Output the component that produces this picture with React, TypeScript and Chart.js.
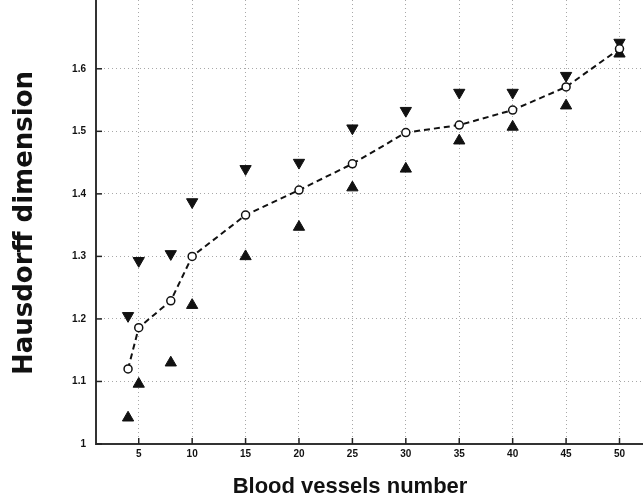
import React, { useEffect, useRef } from "react";
import { Chart, registerables } from "chart.js";

Chart.register(...registerables);

const vesselCounts = [4, 5, 8, 10, 15, 20, 25, 30, 35, 40, 45, 50];
const meanDimension = [1.12, 1.186, 1.229, 1.3, 1.366, 1.406, 1.448, 1.498, 1.51, 1.534, 1.571, 1.632];
const upperDimension = [1.205, 1.293, 1.304, 1.387, 1.44, 1.45, 1.505, 1.533, 1.562, 1.562, 1.589, 1.642];
const lowerDimension = [1.042, 1.096, 1.13, 1.222, 1.3, 1.347, 1.41, 1.44, 1.485, 1.507, 1.541, 1.624];
const xTickValues = [5, 10, 15, 20, 25, 30, 35, 40, 45, 50];
const yTickValues = [1, 1.1, 1.2, 1.3, 1.4, 1.5, 1.6];
const xTitle = "Blood vessels number";
const yTitle = "Hausdorff dimension";

const FONT = '"Liberation Sans", Arial, sans-serif';

export default function App() {
  const ref = useRef<HTMLCanvasElement | null>(null);

  useEffect(() => {
    if (!ref.current) return;
    const toPts = (ys: number[]) => vesselCounts.map((x, i) => ({ x, y: ys[i] }));

    const decorPlugin = {
      id: "decor",
      afterDraw(chart: any) {
        const ctx = chart.ctx;
        const xs = chart.scales.x;
        const ys = chart.scales.y;
        const area = chart.chartArea;
        ctx.save();
        ctx.setLineDash([]);
        ctx.strokeStyle = "#333";
        ctx.lineWidth = 2;
        ctx.beginPath();
        ctx.moveTo(area.left, area.top);
        ctx.lineTo(area.left, area.bottom);
        ctx.lineTo(area.right, area.bottom);
        ctx.stroke();
        ctx.strokeStyle = "#222";
        ctx.lineWidth = 1.5;
        xTickValues.forEach((v) => {
          const px = xs.getPixelForValue(v);
          ctx.beginPath();
          ctx.moveTo(px, area.bottom);
          ctx.lineTo(px, area.bottom - 6);
          ctx.stroke();
        });
        yTickValues.forEach((v) => {
          const py = ys.getPixelForValue(v);
          ctx.beginPath();
          ctx.moveTo(area.left, py);
          ctx.lineTo(area.left + 6, py);
          ctx.stroke();
        });
        ctx.fillStyle = "#111";
        ctx.textAlign = "center";
        ctx.textBaseline = "middle";
        ctx.font = `bold 22px ${FONT}`;
        ctx.fillText(xTitle, 350, 487);
        ctx.translate(25, 223);
        ctx.rotate(-Math.PI / 2);
        ctx.font = `bold 26px "DejaVu Sans", sans-serif`;
        ctx.fillText(yTitle, 0, 0);
        ctx.restore();
      },
    };

    const chart = new Chart(ref.current, {
      type: "line",
      data: {
        datasets: [
          {
            label: "mean",
            data: toPts(meanDimension),
            borderColor: "#111",
            borderWidth: 2,
            borderDash: [6, 4],
            pointStyle: "circle",
            pointRadius: 4,
            pointBorderWidth: 1.5,
            pointBorderColor: "#111",
            pointBackgroundColor: "#fff",
            tension: 0,
            fill: false,
          },
          {
            label: "upper",
            data: toPts(upperDimension),
            showLine: false,
            pointStyle: "triangle",
            rotation: 180,
            pointRadius: 6.5,
            pointBorderWidth: 1,
            pointBorderColor: "#111",
            pointBackgroundColor: "#111",
          },
          {
            label: "lower",
            data: toPts(lowerDimension),
            showLine: false,
            pointStyle: "triangle",
            pointRadius: 6.5,
            pointBorderWidth: 1,
            pointBorderColor: "#111",
            pointBackgroundColor: "#111",
          },
        ],
      },
      options: {
        animation: false,
        responsive: false,
        devicePixelRatio: 1,
        layout: { padding: 0, autoPadding: false },
        plugins: { legend: { display: false }, tooltip: { enabled: false } },
        scales: {
          x: {
            type: "linear",
            min: 1,
            max: 52.2,
            afterBuildTicks: (s: any) => {
              s.ticks = xTickValues.map((v) => ({ value: v }));
            },
            afterFit: (s: any) => {
              s.height = 60;
              s.paddingLeft = 0;
              s.paddingRight = 0;
            },
            ticks: {
              padding: 4,
              color: "#111",
              font: { family: FONT, size: 10, weight: "bold" },
              maxRotation: 0,
              autoSkip: false,
            },
            grid: {
              drawTicks: false,
              color: "#a8a8a8",
              lineWidth: 1,
            },
            border: { display: false, dash: [1, 3] },
          },
          y: {
            type: "linear",
            min: 1,
            max: 1.71,
            afterBuildTicks: (s: any) => {
              s.ticks = yTickValues.map((v) => ({ value: v }));
            },
            afterFit: (s: any) => {
              s.width = 96;
              s.paddingTop = 0;
              s.paddingBottom = 0;
            },
            ticks: {
              padding: 10,
              color: "#111",
              font: { family: FONT, size: 10, weight: "bold" },
              callback: (v: any) => (Number(v) === 1 ? "1" : Number(v).toFixed(1)),
            },
            grid: {
              drawTicks: false,
              color: "#a8a8a8",
              lineWidth: 1,
            },
            border: { display: false, dash: [1, 3] },
          },
        },
      },
      plugins: [decorPlugin],
    } as any);

    return () => chart.destroy();
  }, []);

  return (
    <div style={{ position: "fixed", left: 0, top: 0, width: 643, height: 504, background: "#fff" }}>
      <canvas ref={ref} width={643} height={504} style={{ display: "block" }} />
    </div>
  );
}
